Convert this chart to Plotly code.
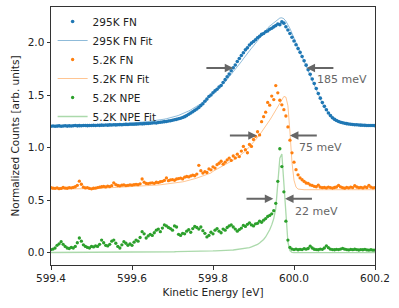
import numpy as np
import plotly.graph_objects as go

# Energy sampling grid [eV]
energy = np.round(np.linspace(599.4, 600.2, 161), 3)

fn295_counts = [
    1.205, 1.207, 1.204, 1.206, 1.208, 1.205, 1.207, 1.209, 1.206, 1.208,
    1.207, 1.209, 1.211, 1.208, 1.210, 1.209, 1.211, 1.212, 1.210, 1.212,
    1.211, 1.213, 1.212, 1.214, 1.213, 1.215, 1.214, 1.216, 1.215, 1.217,
    1.216, 1.218, 1.217, 1.219, 1.220, 1.219, 1.221, 1.222, 1.221, 1.223,
    1.224, 1.223, 1.225, 1.226, 1.228, 1.227, 1.229, 1.231, 1.230, 1.233,
    1.235, 1.237, 1.236, 1.240, 1.243, 1.245, 1.248, 1.250, 1.254, 1.257,
    1.261, 1.266, 1.270, 1.276, 1.281, 1.287, 1.296, 1.306, 1.318, 1.330,
    1.342, 1.356, 1.369, 1.384, 1.401, 1.418, 1.442, 1.463, 1.488, 1.502,
    1.523, 1.541, 1.556, 1.577, 1.592, 1.621, 1.648, 1.676, 1.701, 1.733,
    1.762, 1.788, 1.821, 1.849, 1.878, 1.905, 1.932, 1.951, 1.978, 1.996,
    2.012, 2.028, 2.047, 2.061, 2.079, 2.088, 2.104, 2.112, 2.128, 2.137,
    2.151, 2.163, 2.178, 2.172, 2.198, 2.186, 2.152, 2.121, 2.088, 2.052,
    2.016, 1.980, 1.944, 1.908, 1.869, 1.828, 1.786, 1.742, 1.700, 1.655,
    1.611, 1.564, 1.516, 1.472, 1.431, 1.394, 1.361, 1.331, 1.306, 1.286,
    1.270, 1.259, 1.250, 1.243, 1.238, 1.233, 1.229, 1.226, 1.223, 1.221,
    1.219, 1.218, 1.216, 1.215, 1.214, 1.213, 1.212, 1.212, 1.211, 1.211, 1.210,
]

fn295_fit = [
    1.207, 1.207, 1.208, 1.208, 1.208, 1.209, 1.209, 1.209, 1.210, 1.210,
    1.210, 1.211, 1.211, 1.211, 1.212, 1.212, 1.213, 1.213, 1.214, 1.214,
    1.215, 1.215, 1.216, 1.217, 1.217, 1.218, 1.219, 1.220, 1.221, 1.222,
    1.223, 1.224, 1.225, 1.226, 1.227, 1.228, 1.229, 1.230, 1.231, 1.233,
    1.234, 1.236, 1.237, 1.239, 1.241, 1.243, 1.245, 1.247, 1.249, 1.251,
    1.253, 1.256, 1.259, 1.262, 1.265, 1.268, 1.272, 1.276, 1.280, 1.285,
    1.290, 1.296, 1.302, 1.308, 1.315, 1.322, 1.331, 1.340, 1.350, 1.360,
    1.370, 1.382, 1.394, 1.407, 1.420, 1.434, 1.449, 1.465, 1.481, 1.498,
    1.515, 1.532, 1.549, 1.567, 1.585, 1.606, 1.627, 1.650, 1.673, 1.696,
    1.720, 1.745, 1.770, 1.795, 1.820, 1.847, 1.874, 1.900, 1.924, 1.947,
    1.970, 1.995, 2.020, 2.045, 2.070, 2.094, 2.117, 2.140, 2.158, 2.175,
    2.190, 2.208, 2.225, 2.235, 2.237, 2.228, 2.205, 2.175, 2.135, 2.090,
    2.045, 1.998, 1.950, 1.905, 1.860, 1.815, 1.770, 1.725, 1.680, 1.635,
    1.590, 1.545, 1.500, 1.460, 1.420, 1.385, 1.355, 1.328, 1.305, 1.286,
    1.270, 1.258, 1.248, 1.240, 1.234, 1.229, 1.225, 1.222, 1.219, 1.217,
    1.215, 1.214, 1.213, 1.212, 1.211, 1.211, 1.210, 1.210, 1.209, 1.209, 1.209,
]

fn5_counts = [
    0.620, 0.615, 0.613, 0.618, 0.610, 0.612, 0.621, 0.616, 0.614, 0.619,
    0.618, 0.622, 0.628, 0.642, 0.681, 0.652, 0.624, 0.617, 0.619, 0.612,
    0.608, 0.614, 0.615, 0.620, 0.624, 0.628, 0.631, 0.627, 0.634, 0.630,
    0.638, 0.666, 0.648, 0.640, 0.637, 0.643, 0.646, 0.639, 0.642, 0.647,
    0.644, 0.649, 0.651, 0.648, 0.656, 0.702, 0.672, 0.660, 0.658, 0.663,
    0.666, 0.661, 0.671, 0.668, 0.676, 0.680, 0.688, 0.712, 0.686, 0.693,
    0.697, 0.690, 0.702, 0.706, 0.711, 0.703, 0.719, 0.726, 0.722, 0.731,
    0.738, 0.733, 0.749, 0.832, 0.781, 0.758, 0.772, 0.764, 0.798, 0.789,
    0.818, 0.806, 0.838, 0.852, 0.871, 0.843, 0.862, 0.884, 0.901, 0.879,
    0.921, 0.903, 0.938, 0.916, 0.968, 1.012, 0.981, 0.952, 1.031, 1.012,
    1.078, 1.108, 1.152, 1.122, 1.248, 1.296, 1.338, 1.431, 1.405, 1.492,
    1.458, 1.592, 1.523, 1.452, 1.408, 1.362, 1.302, 1.198, 1.072, 0.951,
    0.862, 0.791, 0.742, 0.712, 0.695, 0.679, 0.664, 0.661, 0.646, 0.641,
    0.632, 0.628, 0.643, 0.624, 0.619, 0.622, 0.617, 0.625, 0.620, 0.616,
    0.621, 0.626, 0.641, 0.627, 0.619, 0.615, 0.622, 0.618, 0.624, 0.620,
    0.638, 0.626, 0.619, 0.623, 0.617, 0.626, 0.621, 0.642, 0.624, 0.618, 0.620,
]

fn5_fit = [
    0.605, 0.605, 0.605, 0.606, 0.606, 0.606, 0.606, 0.607, 0.607, 0.607,
    0.607, 0.608, 0.608, 0.608, 0.609, 0.609, 0.609, 0.610, 0.610, 0.611,
    0.611, 0.611, 0.612, 0.612, 0.613, 0.614, 0.614, 0.615, 0.616, 0.616,
    0.617, 0.618, 0.618, 0.619, 0.620, 0.621, 0.621, 0.622, 0.623, 0.624,
    0.625, 0.626, 0.627, 0.628, 0.630, 0.631, 0.632, 0.634, 0.635, 0.637,
    0.640, 0.642, 0.643, 0.645, 0.647, 0.649, 0.651, 0.653, 0.655, 0.658,
    0.660, 0.663, 0.666, 0.669, 0.672, 0.675, 0.679, 0.683, 0.687, 0.692,
    0.700, 0.705, 0.711, 0.717, 0.723, 0.729, 0.736, 0.743, 0.751, 0.759,
    0.775, 0.785, 0.795, 0.805, 0.815, 0.825, 0.836, 0.847, 0.858, 0.869,
    0.880, 0.893, 0.906, 0.920, 0.935, 0.950, 0.968, 0.987, 1.007, 1.028,
    1.050, 1.073, 1.097, 1.122, 1.148, 1.175, 1.203, 1.232, 1.262, 1.293,
    1.325, 1.360, 1.395, 1.430, 1.463, 1.488, 1.482, 1.400, 1.150, 0.860,
    0.690, 0.625, 0.606, 0.602, 0.601, 0.600, 0.600, 0.600, 0.600, 0.600,
    0.600, 0.600, 0.600, 0.600, 0.600, 0.600, 0.600, 0.600, 0.600, 0.600,
    0.600, 0.600, 0.600, 0.600, 0.600, 0.600, 0.600, 0.600, 0.600, 0.600,
    0.600, 0.600, 0.600, 0.600, 0.600, 0.600, 0.600, 0.600, 0.600, 0.600, 0.600,
]

npe5_counts = [
    0.030, 0.035, 0.045, 0.070, 0.085, 0.105, 0.080, 0.060, 0.045, 0.040,
    0.050, 0.045, 0.060, 0.095, 0.140, 0.110, 0.075, 0.060, 0.050, 0.045,
    0.060, 0.055, 0.065, 0.060, 0.080, 0.120, 0.095, 0.070, 0.065, 0.080,
    0.110, 0.120, 0.090, 0.060, 0.045, 0.075, 0.105, 0.090, 0.070, 0.085,
    0.070, 0.100, 0.120, 0.110, 0.145, 0.200, 0.180, 0.140, 0.160, 0.175,
    0.165, 0.190, 0.215, 0.225, 0.200, 0.235, 0.265, 0.255, 0.240, 0.230,
    0.215, 0.255, 0.245, 0.175, 0.165, 0.185, 0.180, 0.205, 0.220, 0.195,
    0.230, 0.250, 0.240, 0.225, 0.245, 0.210, 0.185, 0.150, 0.165, 0.195,
    0.180, 0.215, 0.230, 0.205, 0.190, 0.225, 0.215, 0.240, 0.255, 0.265,
    0.245, 0.225, 0.205, 0.220, 0.235, 0.260, 0.250, 0.270, 0.285, 0.265,
    0.255, 0.275, 0.280, 0.300, 0.290, 0.310, 0.325, 0.345, 0.355, 0.370,
    0.400, 0.470, 0.680, 0.990, 0.820, 0.580, 0.300, 0.120, 0.050, 0.035,
    0.030, 0.035, 0.028, 0.032, 0.030, 0.038, 0.034, 0.040, 0.062, 0.045,
    0.033, 0.030, 0.028, 0.035, 0.032, 0.045, 0.066, 0.048, 0.034, 0.030,
    0.028, 0.032, 0.030, 0.035, 0.042, 0.034, 0.030, 0.027, 0.031, 0.029,
    0.033, 0.030, 0.026, 0.030, 0.028, 0.032, 0.027, 0.025, 0.028, 0.024, 0.025,
]

npe5_fit = [
    0.002, 0.002, 0.002, 0.002, 0.002, 0.002, 0.002, 0.003, 0.003, 0.003,
    0.003, 0.003, 0.003, 0.003, 0.003, 0.003, 0.004, 0.004, 0.004, 0.004,
    0.004, 0.004, 0.004, 0.004, 0.004, 0.005, 0.005, 0.005, 0.005, 0.005,
    0.005, 0.005, 0.005, 0.006, 0.006, 0.006, 0.006, 0.006, 0.006, 0.006,
    0.006, 0.007, 0.007, 0.007, 0.007, 0.007, 0.007, 0.007, 0.008, 0.008,
    0.008, 0.008, 0.008, 0.008, 0.008, 0.008, 0.008, 0.009, 0.009, 0.009,
    0.009, 0.009, 0.010, 0.010, 0.010, 0.011, 0.011, 0.011, 0.012, 0.012,
    0.012, 0.013, 0.013, 0.014, 0.014, 0.015, 0.015, 0.016, 0.016, 0.017,
    0.017, 0.018, 0.018, 0.019, 0.020, 0.021, 0.022, 0.023, 0.024, 0.025,
    0.026, 0.028, 0.030, 0.032, 0.034, 0.037, 0.040, 0.044, 0.049, 0.055,
    0.062, 0.070, 0.080, 0.092, 0.107, 0.126, 0.150, 0.180, 0.218, 0.265,
    0.325, 0.420, 0.640, 0.900, 0.940, 0.660, 0.330, 0.100, 0.020, 0.003,
    0.000, 0.000, 0.000, 0.000, 0.000, 0.000, 0.000, 0.000, 0.000, 0.000,
    0.000, 0.000, 0.000, 0.000, 0.000, 0.000, 0.000, 0.000, 0.000, 0.000,
    0.000, 0.000, 0.000, 0.000, 0.000, 0.000, 0.000, 0.000, 0.000, 0.000,
    0.000, 0.000, 0.000, 0.000, 0.000, 0.000, 0.000, 0.000, 0.000, 0.000, 0.000,
]

x_ticks = [599.4, 599.6, 599.8, 600.0, 600.2]
y_ticks = [0.0, 0.5, 1.0, 1.5, 2.0]

# FWHM markers: (label, left tip, right tip, height)
fwhm_labels = ["185 meV", "75 meV", "22 meV"]
fwhm_left = [599.850, 599.908, 599.949]
fwhm_right = [600.031, 599.990, 599.978]
fwhm_height = [1.76, 1.116, 0.513]
arrow_len = 0.07
label_pos = [(600.052, 1.65), (600.007, 1.00), (599.998, 0.39)]

BLUE = "#1f77b4"
ORANGE = "#ff7f0e"
GREEN = "#2ca02c"
FONT = "DejaVu Sans"

fig = go.Figure()
fig.add_trace(go.Scatter(x=energy, y=fn295_counts, mode="markers", name="295K FN",
                         marker=dict(color=BLUE, size=3.6)))
fig.add_trace(go.Scatter(x=energy, y=fn295_fit, mode="lines", name="295K FN Fit",
                         line=dict(color="rgba(31,119,180,0.5)", width=1)))
fig.add_trace(go.Scatter(x=energy, y=fn5_counts, mode="markers", name="5.2K FN",
                         marker=dict(color=ORANGE, size=3.3)))
fig.add_trace(go.Scatter(x=energy, y=fn5_fit, mode="lines", name="5.2K FN Fit",
                         line=dict(color="rgba(255,127,14,0.45)", width=1)))
fig.add_trace(go.Scatter(x=energy, y=npe5_counts, mode="markers", name="5.2K NPE",
                         marker=dict(color=GREEN, size=3.3)))
fig.add_trace(go.Scatter(x=energy, y=npe5_fit, mode="lines", name="5.2K NPE Fit",
                         line=dict(color="rgba(44,160,44,0.4)", width=1.3)))

ARROW = "#666666"
for lbl, xl, xr, h, (tx, ty) in zip(fwhm_labels, fwhm_left, fwhm_right, fwhm_height, label_pos):
    fig.add_annotation(x=xl, y=h, ax=xl - arrow_len, ay=h, xref="x", yref="y",
                       axref="x", ayref="y", showarrow=True, arrowhead=2,
                       arrowsize=0.85, arrowwidth=2.0, arrowcolor=ARROW, text="")
    fig.add_annotation(x=xr, y=h, ax=xr + arrow_len, ay=h, xref="x", yref="y",
                       axref="x", ayref="y", showarrow=True, arrowhead=2,
                       arrowsize=0.85, arrowwidth=2.0, arrowcolor=ARROW, text="")
    fig.add_annotation(x=tx, y=ty, xref="x", yref="y", text=lbl, showarrow=False,
                       xanchor="left", yanchor="middle",
                       font=dict(family=FONT, size=11, color=ARROW))

axis_common = dict(showline=True, linecolor="#333333", linewidth=1, mirror=True,
                   ticks="outside", ticklen=3.5, tickwidth=0.8, tickcolor="#333333",
                   showgrid=False, zeroline=False,
                   tickfont=dict(family=FONT, size=10.5, color="#222222"))

fig.update_layout(
    width=399, height=308,
    margin=dict(l=51, r=24, t=7, b=43),
    paper_bgcolor="white", plot_bgcolor="white",
    font=dict(family=FONT, size=10.5, color="#222222"),
    showlegend=True,
    legend=dict(x=0.005, y=1.0, xanchor="left", yanchor="top",
                bgcolor="rgba(0,0,0,0)", font=dict(family=FONT, size=10.5),
                tracegroupgap=0),
    xaxis=dict(range=[599.4, 600.2], tickvals=x_ticks, tickformat=".1f",
               title=dict(text="Kinetic Energy [eV]", standoff=5,
                          font=dict(family=FONT, size=10.5)), **axis_common),
    yaxis=dict(range=[-0.117, 2.34], tickvals=y_ticks, tickformat=".1f",
               title=dict(text="Normalized Counts [arb. units]", standoff=6,
                          font=dict(family=FONT, size=10.5)), **axis_common),
)

fig.write_html("out.html", config={"displayModeBar": False},
               post_script="document.body.style.margin='0px';")
